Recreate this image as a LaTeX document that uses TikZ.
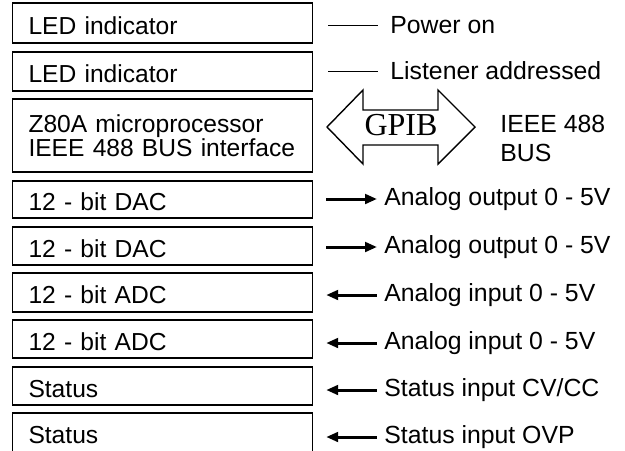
\documentclass[tikz,border=0pt]{standalone}
\usepackage{fontspec}
\setmainfont{Liberation Sans}
\newfontfamily\gpibfont{Liberation Serif}
\usetikzlibrary{arrows.meta}
\begin{document}
\begin{tikzpicture}[x=0.5pt,y=-0.5pt,
  box/.style={draw, line width=0.7pt, rectangle, minimum width=150pt, text width=134pt,
    inner xsep=8pt, inner ysep=0pt, align=left, font=\fontsize{12.3}{12}\selectfont,
    text height=12pt, text depth=1pt},
  boxtext/.style={rectangle, text width=134pt, inner xsep=8pt, inner ysep=0pt, align=left,
    font=\fontsize{12.3}{12}\selectfont},
  lbl/.style={anchor=west, inner sep=0pt, font=\fontsize{12.4}{14}\selectfont},
  thin/.style={line width=0.5pt},
  sig/.style={line width=1.5pt, -{Triangle[length=6pt,width=4.8pt]}},
  sigin/.style={line width=1.5pt, {Triangle[length=6pt,width=4.8pt]}-}]
\useasboundingbox (0,0) rectangle (625,450);
\clip (0,0) rectangle (625,450);
% boxes
\node[box, minimum height=20pt] (b1) at (162.5,23) {LED indicator};
\node[box, minimum height=19.5pt] (b2) at (162.5,71.5) {LED indicator};
\node[draw, line width=0.7pt, minimum width=150pt, minimum height=36.5pt, inner sep=0pt] (b3) at (162.5,135.5) {};
\node[boxtext] (b3t) at (b3.center) {Z80A microprocessor\\IEEE 488 BUS interface};
\node[box, minimum height=18.5pt] (b4) at (162.5,199.5) {12 - bit DAC};
\node[box, minimum height=19pt] (b5) at (162.5,246) {12 - bit DAC};
\node[box, minimum height=19.5pt] (b6) at (162.5,292.5) {12 - bit ADC};
\node[box, minimum height=19pt] (b7) at (162.5,339) {12 - bit ADC};
\node[box, minimum height=19pt] (b8) at (162.5,386) {Status};
\node[box, minimum height=19.5pt] (b9) at (162.5,432.5) {Status};
% labels
\node[lbl] (l1) at (390,25) {Power on};
\node[lbl] (l2) at (390,71) {Listener addressed};
\node[lbl, align=left, font=\fontsize{12.4}{14.5}\selectfont] (l3) at (500,138) {IEEE 488\\BUS};
\node[lbl] (l4) at (384,199) {Analog output 0 - 5V};
\node[lbl] (l5) at (384,247) {Analog output 0 - 5V};
\node[lbl] (l6) at (384,295) {Analog input 0 - 5V};
\node[lbl] (l7) at (384,343) {Analog input 0 - 5V};
\node[lbl] (l8) at (384,390) {Status input CV/CC};
\node[lbl] (l9) at (384,437) {Status input OVP};
% connectors
\draw[thin] ([xshift=7.5pt]b1.east |- l1.west) -- ([xshift=-6pt]l1.west);
\draw[thin] ([xshift=7.5pt]b2.east |- l2.west) -- ([xshift=-6pt]l2.west);
\draw[sig] ([xshift=6.5pt]b4.east |- l4.west) -- ([xshift=-3.5pt]l4.west);
\draw[sig] ([xshift=6.5pt]b5.east |- l5.west) -- ([xshift=-3.5pt]l5.west);
\draw[sigin] ([xshift=6.5pt]b6.east |- l6.west) -- ([xshift=-3.5pt]l6.west);
\draw[sigin] ([xshift=6.5pt]b7.east |- l7.west) -- ([xshift=-3.5pt]l7.west);
\draw[sigin] ([xshift=6.5pt]b8.east |- l8.west) -- ([xshift=-3.5pt]l8.west);
\draw[sigin] ([xshift=6.5pt]b9.east |- l9.west) -- ([xshift=-3.5pt]l9.west);
% GPIB double arrow
\node[inner sep=0pt, font=\gpibfont\fontsize{16}{16}\selectfont] (gpib) at (401,125) {GPIB};
\draw[line width=0.7pt] (327,127) -- (363,90) -- (363,110) -- (438,110) -- (438,90) -- (475,127)
  -- (438,164) -- (438,145) -- (363,145) -- (363,164) -- cycle;
\end{tikzpicture}
\end{document}
